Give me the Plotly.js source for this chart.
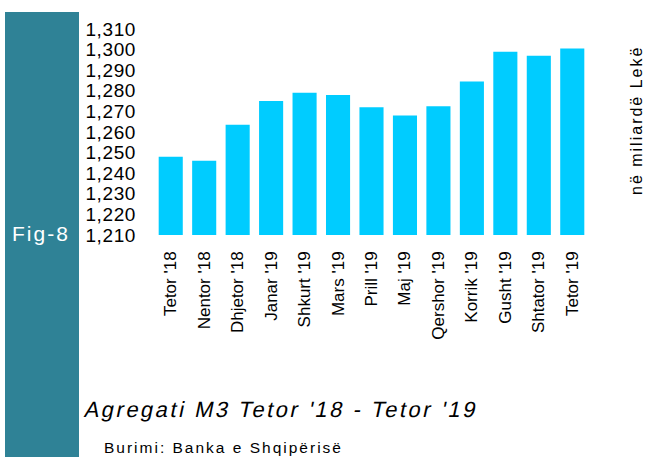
<!DOCTYPE html>
<html>
<head>
<meta charset="utf-8">
<script src="https://cdn.plot.ly/plotly-3.0.1.min.js"></script>
<style>
html,body{margin:0;padding:0;background:#fff;}
#chart{width:646px;height:457px;}
text.gtitle{letter-spacing:2.5px !important;transform:skewX(-12deg);transform-box:fill-box;transform-origin:50% 50%;}
.ytick text{letter-spacing:0.6px !important;}
text.annotation-text{letter-spacing:2px !important;}
</style>
</head>
<body>
<div id="chart"></div>
<script>
const categories = ["Tetor '18","Nentor '18","Dhjetor '18","Janar '19","Shkurt '19","Mars '19","Prill '19","Maj '19","Qershor '19","Korrik '19","Gusht '19","Shtator '19","Tetor '19"];
const m3Values = [1248, 1246, 1263.5, 1275, 1279, 1278, 1272, 1268, 1272.5, 1284.5, 1299, 1297, 1300.5];
const yTickValues = [1210,1220,1230,1240,1250,1260,1270,1280,1290,1300,1310];
const titleText = "Agregati M3 Tetor '18 - Tetor '19";
const sourceText = "Burimi: Banka e Shqipërisë";
const unitText = "në miliardë Lekë";
const figLabel = "Fig-8";

const W = 646, H = 457;
const plotL = 154, plotR = 589, plotT = 29, plotB = 235;
const pw = plotR - plotL, ph = plotB - plotT;
const px = v => (v - plotL) / pw;
const py = v => (plotB - v) / ph;
const SANS = 'Liberation Sans, Arial, sans-serif';

const trace = {
  type: 'bar',
  x: categories,
  y: m3Values,
  marker: {color: '#00CCFF'},
  hoverinfo: 'x+y'
};

const layout = {
  width: W, height: H,
  margin: {l: plotL, r: W - plotR, t: plotT, b: H - plotB, pad: 0},
  paper_bgcolor: '#fff',
  plot_bgcolor: '#fff',
  bargap: 0.28,
  showlegend: false,
  font: {family: SANS, color: '#000'},
  title: {
    text: titleText,
    font: {family: SANS, size: 22, color: '#000'},
    x: 85 / W, xanchor: 'left', xref: 'container',
    y: 1 - 409 / H, yanchor: 'middle', yref: 'container'
  },
  xaxis: {
    type: 'category',
    tickangle: -90,
    tickfont: {size: 17, family: SANS, color: '#000'},
    showgrid: false, zeroline: false, showline: false, ticks: '',
    ticklabelstandoff: 12
  },
  yaxis: {
    range: [1210, 1310],
    tickvals: yTickValues,
    ticktext: yTickValues.map(v => v.toLocaleString('en-US')),
    tickfont: {size: 19, family: SANS, color: '#000'},
    showgrid: false, zeroline: false, showline: false, ticks: '',
    ticklabelstandoff: 17
  },
  shapes: [{
    type: 'rect', xref: 'paper', yref: 'paper', layer: 'below',
    x0: px(5), x1: px(79), y0: py(12), y1: py(460),
    fillcolor: '#2F8296', line: {width: 0}
  }],
  annotations: [
    {text: figLabel, xref: 'paper', yref: 'paper', x: px(41), y: py(233),
     xanchor: 'center', yanchor: 'middle', showarrow: false,
     font: {family: SANS, size: 21, color: '#fff'}},
    {text: sourceText, xref: 'paper', yref: 'paper', x: px(102), y: py(447),
     xanchor: 'left', yanchor: 'middle', showarrow: false,
     font: {family: SANS, size: 15.5, color: '#000'}},
    {text: unitText, xref: 'paper', yref: 'paper', x: px(636), y: py(121),
     xanchor: 'center', yanchor: 'middle', textangle: -90, showarrow: false,
     font: {family: SANS, size: 16, color: '#000'}}
  ]
};

Plotly.newPlot('chart', [trace], layout, {displayModeBar: false, staticPlot: true});
</script>
</body>
</html>
